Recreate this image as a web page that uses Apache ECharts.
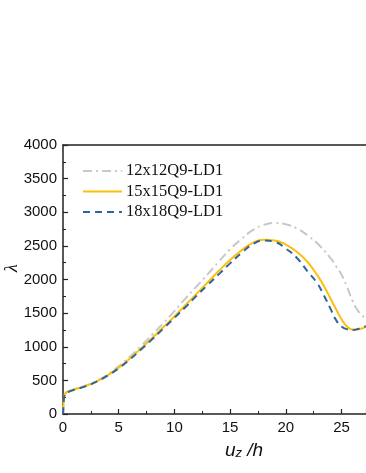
<!DOCTYPE html>
<html><head><meta charset="utf-8">
<script src="https://cdn.jsdelivr.net/npm/echarts@6/dist/echarts.min.js"></script>
<style>html,body{margin:0;padding:0;background:#fff}#c{width:366px;height:473px}</style>
</head><body><div id="c"></div>
<script>
var seriesNames = ['12x12Q9-LD1', '15x15Q9-LD1', '18x18Q9-LD1'];
var xTicks = [0, 5, 10, 15, 20, 25];
var yTicks = [0, 500, 1000, 1500, 2000, 2500, 3000, 3500, 4000];

var u12 = [0,0.05,0.1,0.2,0.3,0.5,1,2,3,4,5,6,7,8,9,10,11,12,13,14,15,16,17,18,19,20,21,22,23,24,24.5,25,25.5,26,26.5,27.2];
var l12 = [0,150,250,310,330,340,370,420,490,590,710,850,1010,1180,1350,1530,1720,1900,2080,2270,2450,2600,2730,2810,2840,2820,2760,2650,2510,2320,2200,2070,1890,1680,1530,1420];

var u15 = [0,0.05,0.1,0.2,0.3,0.5,1,2,3,4,5,6,7,8,9,10,11,12,13,14,15,16,17,18,19,20,21,22,23,23.5,24,24.5,25,25.5,26,26.5,27.2];
var l15 = [0,150,250,300,320,335,365,415,485,575,690,825,975,1130,1290,1450,1620,1790,1960,2130,2290,2430,2540,2590,2580,2520,2410,2250,2020,1880,1720,1560,1410,1300,1255,1260,1300];

var u18 = [0,0.05,0.1,0.2,0.3,0.5,1,2,3,4,5,6,7,8,9,10,11,12,13,14,15,16,17,18,19,20,21,22,22.8,23.4,24,24.5,25,25.5,26,26.5,27.2];
var l18 = [0,150,250,300,320,330,360,410,480,570,680,810,960,1110,1270,1430,1590,1760,1920,2080,2240,2390,2520,2580,2560,2460,2320,2110,1950,1770,1570,1400,1300,1260,1250,1265,1305];

function pairs(xs, ys){ return xs.map(function(x,i){ return [x, ys[i]]; }); }

var chart = echarts.init(document.getElementById('c'), null, {renderer:'canvas'});
var sansFont = 'Liberation Sans, Arial, sans-serif';
var serifFont = 'Liberation Serif, Times New Roman, serif';
var lineStyles = [
  {color:'#c8c8c8', width:2, type:[9,4,2,4]},
  {color:'#fcc00a', width:2, type:'solid'},
  {color:'#2f659d', width:2, type:[7,5]}
];
var datas = [pairs(u12,l12), pairs(u15,l15), pairs(u18,l18)];

var legendGraphics = [];
seriesNames.forEach(function(n,i){
  var cy = 171 + i*20.5;
  legendGraphics.push({type:'line', shape:{x1:83, y1:cy, x2:122, y2:cy},
    style:{stroke:lineStyles[i].color, lineWidth:2, lineDash: lineStyles[i].type==='solid'?null:lineStyles[i].type}});
  legendGraphics.push({type:'text', x:126, y:cy, style:{text:n, fontFamily:serifFont, fontSize:16.5, fill:'#111', verticalAlign:'middle'}});
});

chart.setOption({
  animation:false,
  grid:{left:63, top:145, bottom:59, right:0, show:false},
  xAxis:[{
    type:'value', min:0, max:27.2, interval:5,
    axisLine:{show:true, onZero:false, lineStyle:{color:'#222', width:1.5}},
    axisTick:{show:true, inside:true, length:5, lineStyle:{color:'#222', width:1.2}},
    minorTick:{show:true, splitNumber:2, length:3, lineStyle:{color:'#222', width:1}},
    splitLine:{show:false},
    axisLabel:{margin:6, showMaxLabel:false, formatter:function(v){ return xTicks.indexOf(v)>=0 ? String(v) : ''; }, fontFamily:sansFont, fontSize:15, color:'#111'}
  },{
    type:'value', position:'top', min:0, max:27.2,
    axisLine:{show:true, onZero:false, lineStyle:{color:'#222', width:1.5}},
    axisTick:{show:false}, axisLabel:{show:false}, splitLine:{show:false}
  }],
  yAxis:{
    type:'value', min:0, max:4000, interval:500,
    axisLine:{show:true, lineStyle:{color:'#222', width:1.5}},
    axisTick:{show:true, inside:true, length:5, lineStyle:{color:'#222', width:1.2}},
    minorTick:{show:true, splitNumber:2, length:3, lineStyle:{color:'#222', width:1}},
    splitLine:{show:false},
    axisLabel:{margin:6, formatter:function(v){ return yTicks.indexOf(v)>=0 ? String(v) : ''; }, fontFamily:sansFont, fontSize:15, color:'#111'}
  },
  graphic:[
    {type:'text', left:225, top:441, style:{
      text:'{u|u}{s|z}{u| /h}',
      rich:{
        u:{fontFamily:sansFont, fontStyle:'italic', fontSize:19, fill:'#111', verticalAlign:'bottom'},
        s:{fontFamily:sansFont, fontStyle:'italic', fontSize:13, fill:'#111', padding:[8,0,0,0], verticalAlign:'bottom'}
      }
    }},
    {type:'text', x:12, y:268, rotation:Math.PI/2, style:{
      text:'λ', fontFamily:serifFont, fontStyle:'italic', fontSize:18, fill:'#111', align:'center', verticalAlign:'middle'
    }}
  ].concat(legendGraphics),
  series:seriesNames.map(function(n,i){
    return {name:n, type:'line', data:datas[i], showSymbol:false, symbol:'none', smooth:0.5,
      lineStyle:lineStyles[i], itemStyle:{color:lineStyles[i].color}, z:2+i};
  })
});
</script></body></html>
